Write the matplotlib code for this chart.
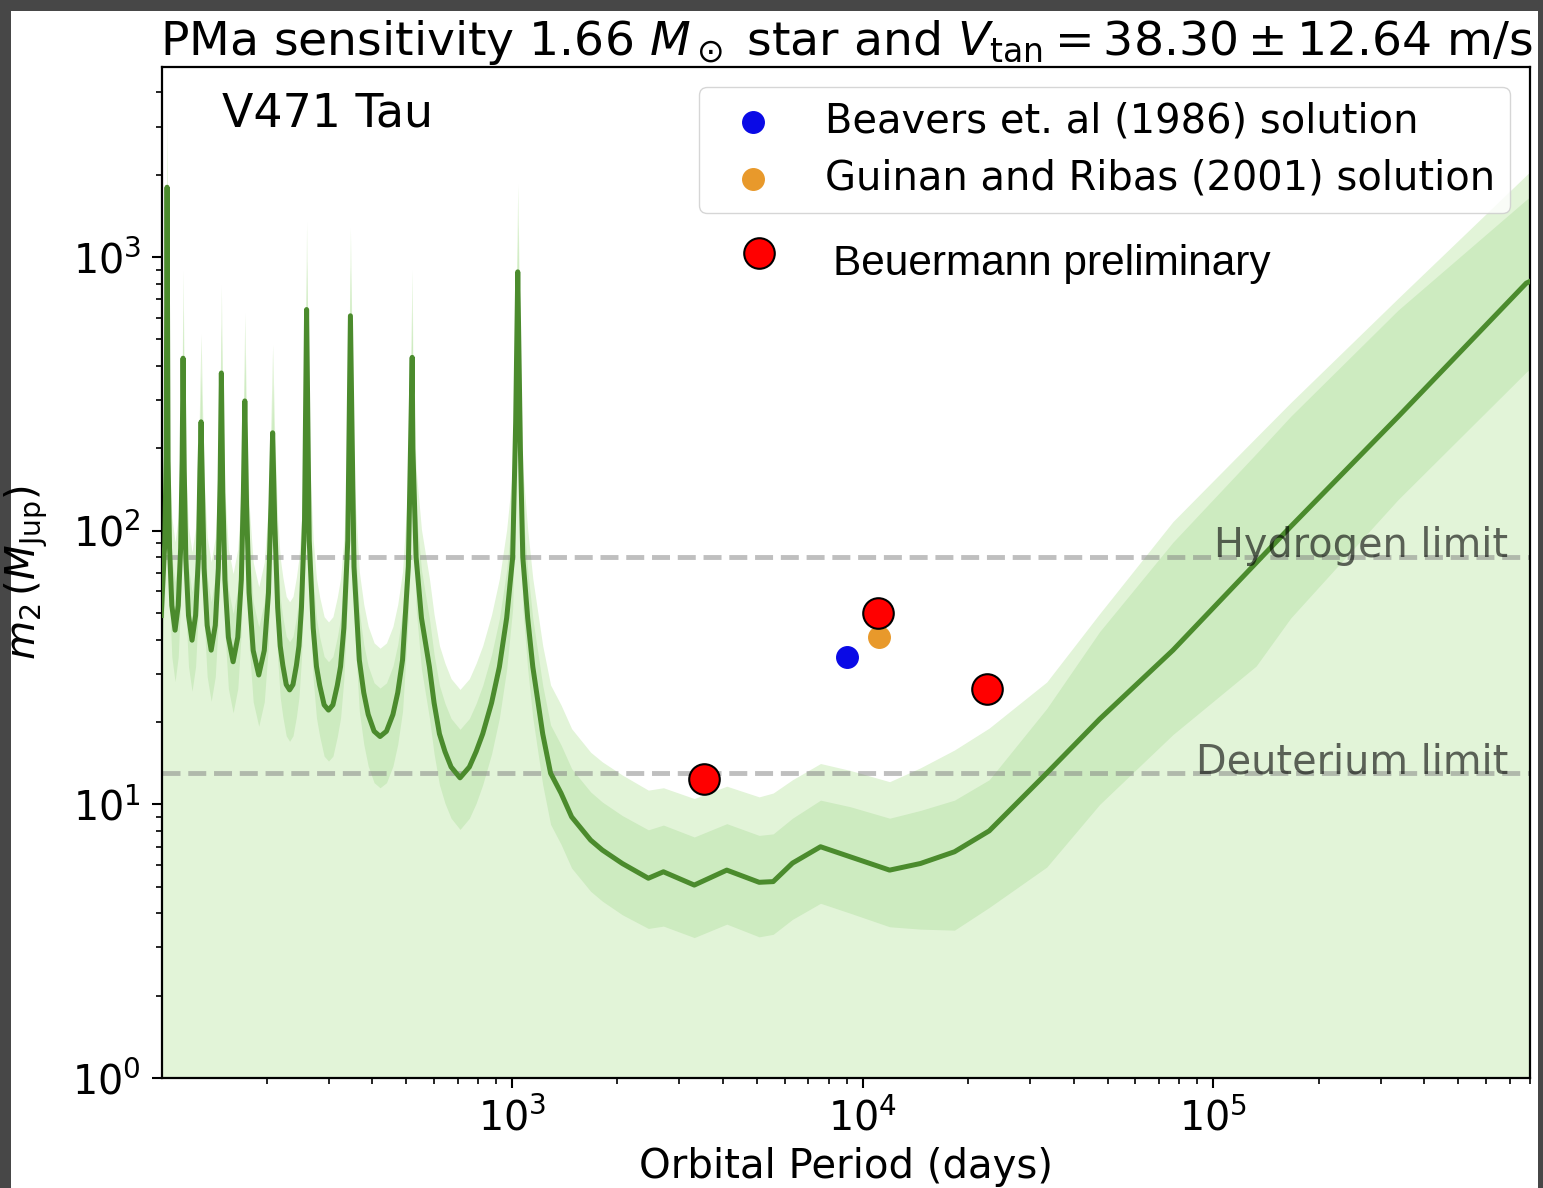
import matplotlib
matplotlib.use('Agg')
import matplotlib.pyplot as plt
from matplotlib.patches import Rectangle

# ---------------- data ----------------
period_days = [100.0, 102.3, 103.3, 103.9,
               104.6, 105.6, 107.2, 109.5, 111.8, 113.6, 114.7,
               115.4,
               116.3, 117.5, 119.6, 122.4, 125.3, 127.6, 128.9,
               129.9,
               130.9, 132.5, 135.2, 138.8, 142.6, 145.5, 147.2,
               148.4,
               149.8, 151.9, 155.4, 160.3, 165.3, 169.2, 171.5,
               173.1,
               175.1, 178.0, 182.9, 189.7, 196.7, 202.2, 205.5,
               207.8,
               210.6, 214.8, 218.4, 222.2, 227.2, 232.3, 237.5, 242.9, 247.0, 251.1, 256.2,
               259.7,
               264.2, 271.2, 277.1, 283.1, 291.4, 299.9, 308.7, 317.7, 324.6, 331.7, 340.4,
               346.3,
               354.5, 367.1, 378.0, 389.2, 404.6, 420.7, 438.8, 457.8, 472.5, 487.6, 506.5,
               519.5,
               521.8, 533.0, 552.1, 581.7, 599.8, 621.3, 644.2, 670.7, 711.2, 756.3,
               790.7, 825.5, 875.0, 921.0, 966.1, 1005, 1025,
               1039,
               1057, 1074, 1109, 1147, 1224, 1289, 1380, 1480, 1677, 1810, 2064, 2449,
               2704, 3311, 4099, 5070, 5559, 6310, 7586, 9226, 11940, 14620, 18280,
               22960, 33500, 47430, 76740, 132400, 166300, 336500, 780600, 800000]

m2_median = [49, 89, 187, 1800,
             180, 86.4, 53.3, 43.3, 53.3, 86.4, 180,
             427,
             166, 79.4, 49.0, 39.8, 49.0, 79.4, 166,
             250,
             153, 72.9, 45.1, 36.6, 45.1, 72.9, 153,
             377,
             138, 66.2, 40.8, 33.2, 40.8, 66.2, 138,
             298,
             124, 59.3, 36.5, 29.7, 36.5, 59.3, 124,
             228,
             109, 52.3, 37.9, 32.2, 27.4, 26.2, 27.4, 32.2, 37.9, 52.3, 109,
             643,
             92.1, 44.1, 31.9, 27.2, 23.1, 22.1, 23.1, 27.2, 31.9, 44.1, 92.1,
             610,
             73.8, 33.7, 25.6, 21.3, 18.5, 17.7, 18.5, 21.3, 25.6, 33.7, 73.8,
             430,
             200, 80, 48, 31.8, 23.5, 18.1, 15.6, 13.7, 12.5, 13.7,
             15.6, 18.1, 23.5, 31.8, 48, 80, 250,
             883,
             200, 80, 48, 31.8, 18.1, 13.0, 11.0, 9.0, 7.4, 6.81, 6.08, 5.37,
             5.67, 5.07, 5.75, 5.19, 5.22, 6.1, 7.0, 6.43, 5.75, 6.08, 6.71,
             8.0, 13.0, 20.5, 36.6, 76.2, 103.6, 261, 803, 815]

m2_1sig_high = [73.5, 134, 281, 2700,
                270, 130, 80.0, 65.0, 80.0, 130, 270,
                641,
                249, 119, 73.5, 59.7, 73.5, 119, 249,
                375,
                230, 109, 67.7, 54.9, 67.7, 109, 230,
                566,
                207, 99.3, 61.2, 49.8, 61.2, 99.3, 207,
                447,
                186, 89.0, 54.8, 44.6, 54.8, 89.0, 186,
                342,
                164, 78.5, 56.9, 48.3, 41.1, 39.3, 41.1, 48.3, 56.9, 78.5, 164,
                965,
                138, 66.2, 47.9, 40.8, 34.7, 33.2, 34.7, 40.8, 47.9, 66.2, 138,
                915,
                111, 50.6, 38.4, 32.0, 27.8, 26.6, 27.8, 32.0, 38.4, 50.6, 111,
                645,
                300, 120, 72, 47.7, 35.3, 27.2, 23.4, 20.6, 18.8, 20.6,
                23.4, 27.2, 35.3, 47.7, 72, 120, 375,
                1320,
                300, 120, 72, 47.7, 27.2, 19.5, 16.5, 13.5, 11.1, 10.2, 9.1, 8.07,
                8.4, 7.6, 8.5, 7.7, 7.8, 8.9, 10.36, 9.8, 8.9, 9.5, 10.36,
                12.3, 22.4, 42.8, 90.8, 191, 262, 640, 1620, 1660]

m2_1sig_low = [31.9, 57.9, 122, 1170,
               117, 56.2, 34.6, 28.1, 34.6, 56.2, 117,
               278,
               108, 51.6, 31.9, 25.9, 31.9, 51.6, 108,
               163,
               99.5, 47.4, 29.3, 23.8, 29.3, 47.4, 99.5,
               245,
               89.7, 43.0, 26.5, 21.6, 26.5, 43.0, 89.7,
               194,
               80.6, 38.5, 23.7, 19.3, 23.7, 38.5, 80.6,
               148,
               70.9, 34.0, 24.6, 20.9, 17.8, 17.0, 17.8, 20.9, 24.6, 34.0, 70.9,
               418,
               59.9, 28.7, 20.7, 17.7, 15.0, 14.4, 15.0, 17.7, 20.7, 28.7, 59.9,
               397,
               48.0, 21.9, 16.6, 13.8, 12.0, 11.5, 12.0, 13.8, 16.6, 21.9, 48.0,
               280,
               130, 52, 31.2, 20.7, 15.3, 11.8, 10.1, 8.9, 8.1, 8.9,
               10.1, 11.8, 15.3, 20.7, 31.2, 52, 163,
               574,
               130, 52, 31.2, 20.7, 11.8, 8.45, 7.15, 5.85, 4.81, 4.43, 3.95, 3.52,
               3.59, 3.26, 3.65, 3.28, 3.35, 3.8, 4.35, 4.0, 3.57, 3.5, 3.47,
               4.2, 5.9, 10.0, 18, 32, 48, 130, 380, 390]

m2_2sig_high = [103, 187, 393, 3780,
                378, 181, 112, 90.9, 112, 181, 378,
                897,
                349, 167, 103, 83.6, 103, 167, 349,
                525,
                321, 153, 94.7, 76.9, 94.7, 153, 321,
                792,
                290, 139, 85.7, 69.7, 85.7, 139, 290,
                626,
                260, 125, 76.7, 62.4, 76.7, 125, 260,
                479,
                229, 110, 79.6, 67.6, 57.5, 55.0, 57.5, 67.6, 79.6, 110, 229,
                1350,
                193, 92.6, 67.0, 57.1, 48.5, 46.4, 48.5, 57.1, 67.0, 92.6, 193,
                1280,
                155, 70.8, 53.8, 44.7, 38.9, 37.2, 38.9, 44.7, 53.8, 70.8, 155,
                903,
                420, 168, 101, 66.8, 49.4, 38.0, 32.8, 28.8, 26.3, 28.8,
                32.8, 38.0, 49.4, 66.8, 101, 168, 525,
                1850,
                420, 168, 101, 66.8, 38.0, 27.3, 23.1, 18.9, 15.5, 14.3, 12.8, 11.27,
                11.5, 10.5, 11.65, 10.65, 11.0, 12.3, 14.1, 13.3, 12.1, 13.6, 15.8,
                19, 28, 49.8, 108, 219, 294, 707, 1990, 2050]

beavers_P = [9000]
beavers_m = [34.5]
guinan_P = [11100]
guinan_m = [40.9]
beuermann_P = [3520, 11040, 22600]
beuermann_m = [12.4, 50.0, 26.4]

hydrogen_limit = 80
deuterium_limit = 13

title = r'PMa sensitivity 1.66 $M_\odot$ star and $V_{\rm tan} = 38.30 \pm 12.64$ m/s'

# ---------------- figure ----------------
W, H = 1543, 1188
fig = plt.figure(figsize=(W / 100, H / 100), dpi=100)
fig.patch.set_facecolor('#474747')
fig.add_artist(Rectangle((11 / W, 0), (1538 - 11) / W, 1177 / H,
                         transform=fig.transFigure, facecolor='white',
                         edgecolor='none', zorder=-10))

ax = fig.add_axes([162 / W, 110 / H, (1530 - 162) / W, 1011 / H])
ax.set_xscale('log')
ax.set_yscale('log')
ax.set_xlim(100.5, 8e5)
ax.set_ylim(1, 4950)

ax.fill_between(period_days, 1, m2_2sig_high, color='#e2f4d8', lw=0, zorder=1)
ax.fill_between(period_days, m2_1sig_low, m2_1sig_high, color='#cdebc0', lw=0, zorder=1.5)

for lim, lab in [(hydrogen_limit, 'Hydrogen limit'), (deuterium_limit, 'Deuterium limit')]:
    ax.axhline(lim, color='gray', alpha=0.5, ls='--', lw=3.5, zorder=2)
    ax.text(0.984, lim, lab, transform=ax.get_yaxis_transform(), ha='right',
            va='baseline', fontsize=28.6, color='k', alpha=0.6, zorder=5)

ax.plot(period_days, m2_median, color='#4b8b2d', lw=3.6, zorder=3,
        solid_joinstyle='round')

ax.scatter(beavers_P, beavers_m, s=15.5 ** 2, color='#0a0ae6', zorder=6,
           label='Beavers et. al (1986) solution')
ax.scatter(guinan_P, guinan_m, s=15.5 ** 2, color='#e8992b', zorder=6,
           label='Guinan and Ribas (2001) solution')
ax.plot(beuermann_P, beuermann_m, 'o', ms=22, mfc='red', mec='black', mew=1.5,
        ls='none', zorder=7)

leg = ax.legend(loc='upper right', fontsize=28.8, framealpha=0.8,
                handletextpad=0.8, borderpad=0.36, labelspacing=0.42)
leg.set_zorder(8)

ax.plot([0.4364], [0.816], 'o', ms=22, mfc='red', mec='black', mew=1.5,
        transform=ax.transAxes, clip_on=False, zorder=9)
ax.text(0.4905, 0.794, 'Beuermann preliminary', transform=ax.transAxes,
        fontsize=30.5, family='Liberation Sans', ha='left', va='baseline', zorder=9)

ax.text(0.0439, 0.9407, 'V471 Tau', transform=ax.transAxes, fontsize=33,
        ha='left', va='baseline', zorder=9)

ax.set_title(title, fontsize=34)
ax.set_xlabel('Orbital Period (days)', fontsize=29)
ax.set_ylabel(r'$m_2\,(M_{\rm Jup})$', fontsize=29)
ax.xaxis.set_label_coords(0.5, -0.068)
ax.yaxis.set_label_coords(-0.082, 0.5)

ax.tick_params(which='major', labelsize=28.5, length=7, width=1.5, pad=8)
ax.tick_params(which='minor', length=4, width=1.2)
for sp in ax.spines.values():
    sp.set_linewidth(1.6)

fig.savefig('out.png', dpi=100, facecolor=fig.get_facecolor())
